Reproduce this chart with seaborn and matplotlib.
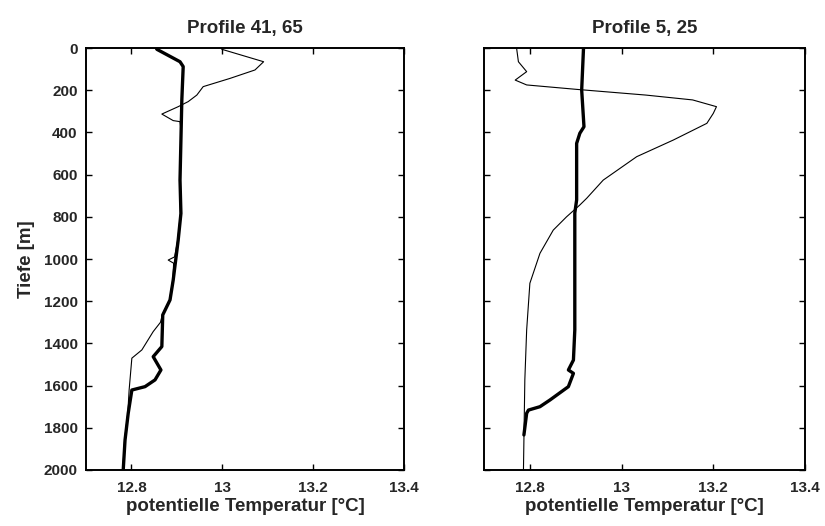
import matplotlib
matplotlib.use("Agg")
import matplotlib.pyplot as plt
import seaborn as sns
import pandas as pd

# Profile 41, 65 -- thick curve (profile 41)
depth_41 = [0, 6, 65, 88, 246, 626, 784, 910, 1100, 1194, 1265, 1415, 1463,
            1526, 1573, 1605, 1621, 1731, 1858, 2000]
temp_41 = [12.855, 12.856, 12.907, 12.914, 12.911, 12.907, 12.909, 12.903,
           12.892, 12.885, 12.869, 12.867, 12.848, 12.865, 12.852, 12.830,
           12.801, 12.793, 12.786, 12.782]

# Profile 41, 65 -- thin curve (profile 65)
depth_65 = [0, 6, 65, 104, 144, 183, 223, 254, 278, 313, 344, 349, 400, 626,
            784, 910, 990, 1005, 1020, 1100, 1194, 1265, 1300, 1344, 1431,
            1470, 1621, 1731, 1858, 2000]
temp_65 = [12.998, 12.999, 13.091, 13.072, 13.017, 12.958, 12.944, 12.925,
           12.903, 12.867, 12.892, 12.907, 12.910, 12.906, 12.908, 12.902,
           12.895, 12.881, 12.893, 12.891, 12.884, 12.868, 12.864, 12.848,
           12.823, 12.801, 12.795, 12.792, 12.785, 12.781]

# Profile 5, 25 -- thick curve (profile 5)
depth_5 = [0, 199, 373, 404, 452, 720, 782, 1336, 1479, 1526, 1542, 1605,
           1668, 1700, 1716, 1731, 1834]
temp_5 = [12.917, 12.913, 12.918, 12.909, 12.902, 12.902, 12.898, 12.898,
          12.895, 12.884, 12.895, 12.884, 12.844, 12.822, 12.797, 12.793,
          12.787]

# Profile 5, 25 -- thin curve (profile 25)
depth_25 = [0, 65, 112, 152, 175, 196, 223, 246, 278, 310, 357, 436, 515,
            626, 712, 744, 800, 863, 973, 1115, 1336, 1573, 2000]
temp_25 = [12.771, 12.775, 12.793, 12.768, 12.793, 12.902, 13.053, 13.155,
           13.207, 13.200, 13.186, 13.113, 13.033, 12.960, 12.924, 12.909,
           12.880, 12.851, 12.822, 12.800, 12.793, 12.789, 12.786]

titles = ["Profile 41, 65", "Profile 5, 25"]
x_ticks = [12.8, 13.0, 13.2, 13.4]
x_tick_labels = ["12.8", "13", "13.2", "13.4"]
y_ticks = list(range(0, 2001, 200))

sns.set_theme(style="ticks")
plt.rcParams["font.family"] = ["Liberation Sans", "DejaVu Sans"]
plt.rcParams["font.weight"] = "bold"

fig = plt.figure(figsize=(8.25, 5.26), dpi=100)
ax_l = fig.add_axes([0.1042, 0.1065, 0.3855, 0.8022])
ax_r = fig.add_axes([0.5867, 0.1065, 0.3890, 0.8022])

panels = [
    (ax_l, temp_41, depth_41, temp_65, depth_65),
    (ax_r, temp_5, depth_5, temp_25, depth_25),
]

for i, (ax, t_thick, d_thick, t_thin, d_thin) in enumerate(panels):
    thin = pd.DataFrame({"temp": t_thin, "depth": d_thin})
    thick = pd.DataFrame({"temp": t_thick, "depth": d_thick})
    sns.lineplot(data=thin, x="temp", y="depth", sort=False, estimator=None,
                 color="black", linewidth=0.8, ax=ax)
    sns.lineplot(data=thick, x="temp", y="depth", sort=False, estimator=None,
                 color="black", linewidth=2.4, ax=ax)
    ax.set_xlim(12.7, 13.4)
    ax.set_ylim(2000, 0)
    ax.set_xticks(x_ticks)
    ax.set_xticklabels(x_tick_labels)
    ax.set_yticks(y_ticks)
    ax.tick_params(direction="in", top=True, right=True, length=4,
                   width=1.0, color="black", labelsize=11)
    ax.tick_params(axis="x", pad=8)
    ax.tick_params(axis="y", pad=6)
    for lab in ax.get_xticklabels() + ax.get_yticklabels():
        lab.set_fontweight("bold")
    for sp in ax.spines.values():
        sp.set_visible(True)
        sp.set_linewidth(1.4)
        sp.set_color("black")
    ax.set_title(titles[i], fontsize=13.5, fontweight="bold", pad=11)
    ax.set_xlabel("potentielle Temperatur [°C]", fontsize=13.5,
                  fontweight="bold", labelpad=2)
    ax.set_ylabel("")

ax_l.set_ylabel("Tiefe [m]", fontsize=13.5, fontweight="bold", labelpad=6)
ax_r.tick_params(labelleft=False)

fig.savefig("out.png", dpi=100, facecolor="white")
